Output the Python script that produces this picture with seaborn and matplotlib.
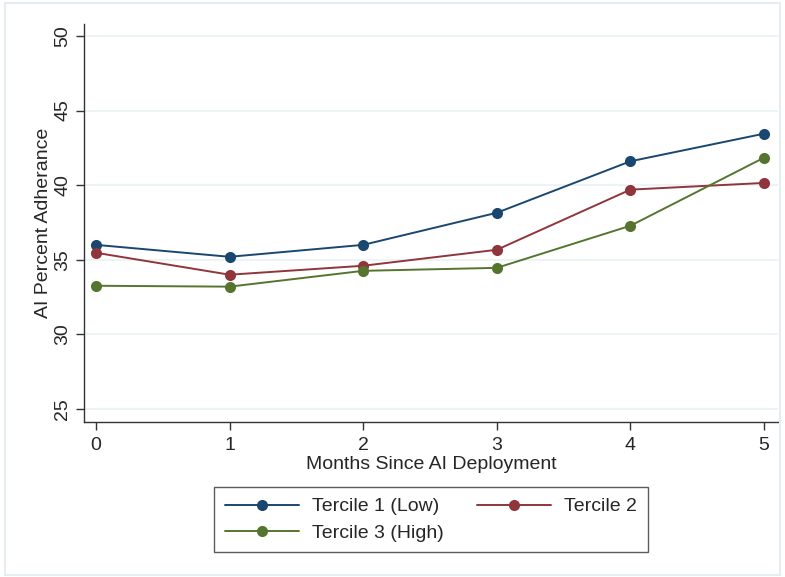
import matplotlib
matplotlib.use("Agg")
import matplotlib.pyplot as plt
import seaborn as sns
import pandas as pd
from matplotlib.patches import Rectangle

months = [0, 1, 2, 3, 4, 5]
tercile_1_low = [36.0, 35.2, 36.0, 38.15, 41.6, 43.45]
tercile_2 = [35.47, 34.0, 34.6, 35.67, 39.7, 40.15]
tercile_3_high = [33.26, 33.2, 34.26, 34.46, 37.28, 41.84]
series_names = ["Tercile 1 (Low)", "Tercile 2", "Tercile 3 (High)"]
y_ticks = [25, 30, 35, 40, 45, 50]

rows = []
for name, vals in zip(series_names, [tercile_1_low, tercile_2, tercile_3_high]):
    for m, v in zip(months, vals):
        rows.append({"month": m, "adherence": v, "group": name})
df = pd.DataFrame(rows)

sns.set_style("white")
plt.rcParams["font.family"] = ["Liberation Sans", "DejaVu Sans"]
FS = 14.0

palette = {"Tercile 1 (Low)": "#1a476f", "Tercile 2": "#90353b", "Tercile 3 (High)": "#55752f"}

fig = plt.figure(figsize=(7.85, 5.77), dpi=100)
fig.patches.append(Rectangle((0.006, 0.004), 0.988, 0.99, transform=fig.transFigure,
                             fill=False, edgecolor="#e6edf0", linewidth=1.5))
ax = fig.add_axes([84 / 785, 1 - 422 / 577, (778 - 84) / 785, (422 - 24) / 577])

sns.lineplot(data=df, x="month", y="adherence", hue="group", palette=palette,
             hue_order=series_names, marker="o", markersize=8, markeredgewidth=0,
             linewidth=1.4, ax=ax)

ax.set_xlim(-0.09, 5.105)
ax.set_ylim(24.13, 50.8)
ax.set_yticks(y_ticks)
ax.set_xticks(months)
ax.set_yticklabels([str(t) for t in y_ticks], rotation=90, va="center", fontsize=FS)
ax.set_xticklabels([str(m) for m in months], fontsize=FS)
ax.yaxis.grid(True, color="#eaf2f3", linewidth=1.2)
ax.xaxis.grid(False)
ax.set_axisbelow(True)
for s in ["top", "right"]:
    ax.spines[s].set_visible(False)
for s in ["left", "bottom"]:
    ax.spines[s].set_color("#333333")
    ax.spines[s].set_linewidth(1.0)
ax.tick_params(axis="both", which="both", direction="out", length=6, width=1,
               color="#333333", left=True, bottom=True, pad=3)
ax.tick_params(axis="x", pad=5)
ax.set_xlabel("Months Since AI Deployment", fontsize=FS, labelpad=1)
ax.set_ylabel("AI Percent Adherance", fontsize=FS, labelpad=1.5)

# row-major legend: T1, T2 on the first row, T3 below
handles, labels = ax.get_legend_handles_labels()
order = [0, 2, 1]
ax.legend([handles[i] for i in order], [labels[i] for i in order], ncol=2,
          loc="upper center",
          bbox_to_anchor=(431 / 785, 1 - 487 / 577), bbox_transform=fig.transFigure,
          frameon=True, fancybox=False, edgecolor="#333333", fontsize=FS,
          handlelength=3.8, columnspacing=1.75, borderpad=0.55, labelspacing=0.45,
          handletextpad=0.65, borderaxespad=0)
ax.get_legend().get_frame().set_linewidth(1.0)

fig.savefig("out.png", dpi=100)
